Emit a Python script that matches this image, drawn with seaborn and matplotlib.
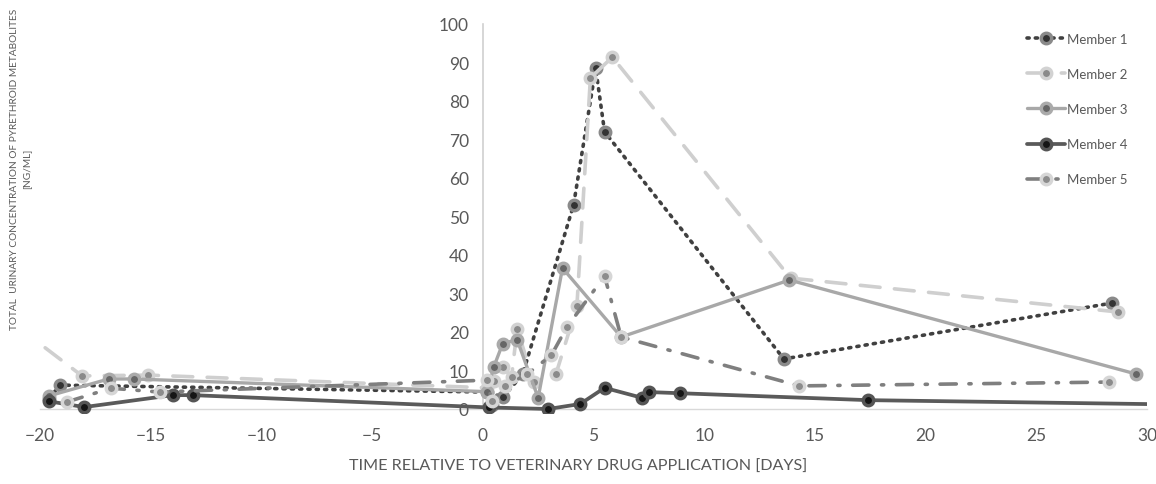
import matplotlib
matplotlib.use("Agg")
import matplotlib.pyplot as plt
import seaborn as sns
import pandas as pd

# ---- data (days relative to application, concentration ng/mL) ----
m1_x = [-19.6, -19.1, 0.2, 0.4, 0.9, 1.8, 4.1, 5.1, 5.5, 13.6, 28.4]
m1_y = [2.6, 6.2, 4.4, 1.0, 3.0, 9.0, 53.0, 88.5, 72.0, 13.0, 27.5]

m2_x = [-21.0, -18.1, -15.1, 0.2, 0.5, 0.9, 1.3, 1.55, 2.3, 3.3, 4.25, 4.86, 5.85, 13.9, 28.7]
m2_y = [21.3, 8.6, 8.8, 5.5, 7.3, 11.0, 8.3, 20.8, 7.0, 9.0, 26.7, 86.0, 91.4, 34.0, 25.2]

m3_x = [-19.6, -16.9, -15.75, 0.2, 0.5, 0.9, 1.55, 2.5, 3.6, 6.25, 13.85, 29.5]
m3_y = [3.4, 7.8, 7.8, 4.5, 11.0, 17.0, 18.0, 2.9, 36.6, 18.7, 33.5, 9.1]

m4_x = [-19.6, -18.0, -14.0, -13.1, 0.3, 2.95, 4.4, 5.5, 7.2, 7.5, 8.9, 17.4, 31.0]
m4_y = [2.0, 0.5, 3.6, 3.6, 0.4, 0.0, 1.3, 5.5, 2.9, 4.4, 4.1, 2.3, 1.2]

m5_x = [-18.8, -16.8, -14.6, 0.2, 0.4, 1.0, 2.0, 3.1, 3.8, 5.5, 6.25, 14.3, 28.3]
m5_y = [1.8, 5.4, 4.4, 7.5, 2.0, 6.0, 9.0, 14.0, 21.3, 34.5, 18.7, 6.0, 7.0]

members = ["Member 1", "Member 2", "Member 3", "Member 4", "Member 5"]
xs = [m1_x, m2_x, m3_x, m4_x, m5_x]
ys = [m1_y, m2_y, m3_y, m4_y, m5_y]

x_ticks = [-20, -15, -10, -5, 0, 5, 10, 15, 20, 25, 30]
y_ticks = [0, 10, 20, 30, 40, 50, 60, 70, 80, 90, 100]

# ---- styles ----
styles = {
    "Member 1": dict(color="#404040", lw=2.6, ls=(0, (0.6, 1.7)), mfc="#333333", mec="#8a8a8a"),
    "Member 2": dict(color="#cfcfcf", lw=2.6, ls=(0, (5.5, 4)), mfc="#8a8a8a", mec="#d2d2d2"),
    "Member 3": dict(color="#a8a8a8", lw=2.4, ls="-", mfc="#666666", mec="#aaaaaa"),
    "Member 4": dict(color="#5a5a5a", lw=2.7, ls="-", mfc="#151515", mec="#555555"),
    "Member 5": dict(color="#7f7f7f", lw=2.6, ls=(0, (4.5, 3.5, 0.6, 3.5)), mfc="#8c8c8c", mec="#d6d6d6"),
}

sns.set_theme(style="white")
plt.rcParams["font.family"] = ["Lato", "DejaVu Sans"]

fig = plt.figure(figsize=(11.56, 4.85), dpi=100)
ax = fig.add_axes([40 / 1156, 1 - 413.85 / 485, 1107 / 1156, (413.85 - 25) / 485])

for name, x, y in zip(members, xs, ys):
    st = styles[name]
    df = pd.DataFrame({"day": x, "conc": y})
    sns.lineplot(data=df, x="day", y="conc", ax=ax, sort=False, estimator=None,
                 color=st["color"], linewidth=st["lw"], linestyle=st["ls"],
                 marker="o", markersize=7.5, markerfacecolor=st["mfc"],
                 markeredgecolor=st["mec"], markeredgewidth=2.5,
                 dash_capstyle="round", label=name)

ax.set_xlim(-20, 30)
ax.set_ylim(-1, 100)
ax.set_xticks(x_ticks)
ax.set_yticks(y_ticks)
ax.set_xlabel("")
ax.set_ylabel("")

for s in ["top", "right"]:
    ax.spines[s].set_visible(False)
ax.spines["left"].set_position(("data", 0))
ax.spines["left"].set_bounds(0, 100)
ax.spines["bottom"].set_position(("data", 0))
ax.spines["left"].set_color("#d0d0d0")
ax.spines["bottom"].set_color("#d9d9d9")
ax.spines["left"].set_linewidth(1.2)
ax.spines["bottom"].set_linewidth(1.0)
ax.spines["left"].set_zorder(0.5)
ax.spines["bottom"].set_zorder(0.5)
ax.tick_params(axis="both", length=0, labelsize=12.5, colors="#595959")
ax.tick_params(axis="x", pad=13)
ax.tick_params(axis="y", pad=10)

fig.text(578 / 1156, 1 - 467 / 485, "TIME RELATIVE TO VETERINARY DRUG APPLICATION [DAYS]",
         ha="center", va="center", fontsize=11.6, color="#595959")
fig.text(21 / 1156, 1 - 169 / 485,
         "TOTAL  URINARY CONCENTRATION OF PYRETHROID METABOLITES\n[NG/ML]",
         ha="center", va="center", rotation=90, fontsize=7.3, color="#595959",
         linespacing=1.45, multialignment="center")

leg = ax.legend(loc="upper left", bbox_to_anchor=(1015 / 1156, 1 - 22 / 485),
                bbox_transform=fig.transFigure, frameon=False, fontsize=9.5,
                labelspacing=1.75, handlelength=2.9, handletextpad=0.15,
                labelcolor="#595959")

fig.savefig("out.png", dpi=100, facecolor="white")
